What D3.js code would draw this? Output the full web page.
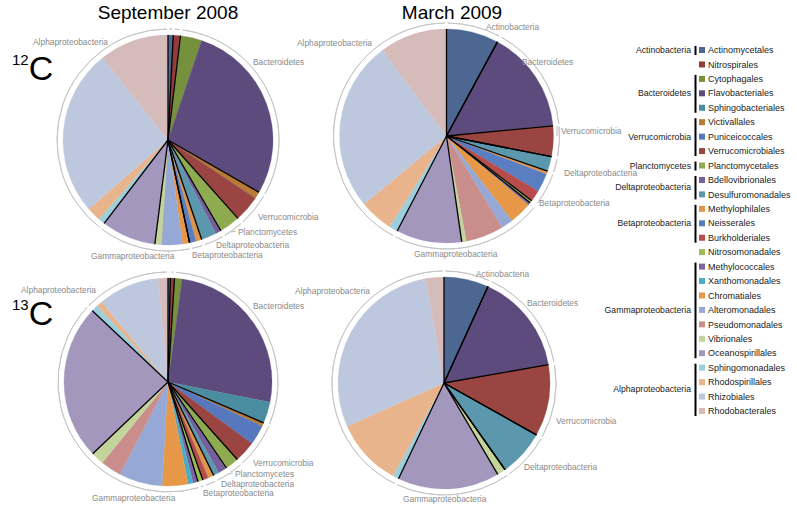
<!DOCTYPE html>
<html>
<head>
<meta charset="utf-8">
<script src="https://cdn.jsdelivr.net/npm/d3@7"></script>
<style>body{margin:0;background:#fff}</style>
</head>
<body>
<script>
// orders, in pie / legend order
var orders = ['Actinomycetales', 'Nitrospirales', 'Cytophagales', 'Flavobacteriales', 'Sphingobacteriales',
  'Victivallales', 'Puniceicoccales', 'Verrucomicrobiales', 'Planctomycetales', 'Bdellovibrionales',
  'Desulfuromonadales', 'Methylophilales', 'Neisserales', 'Burkholderiales', 'Nitrosomonadales',
  'Methylococcales', 'Xanthomonadales', 'Chromatiales', 'Alteromonadales', 'Pseudomonadales',
  'Vibrionales', 'Oceanospirillales', 'Sphingomonadales', 'Rhodospirillales', 'Rhizobiales', 'Rhodobacterales']
var groupOf = ['Actinobacteria', 'Nitrospirae', 'Bacteroidetes', 'Bacteroidetes', 'Bacteroidetes',
  'Verrucomicrobia', 'Verrucomicrobia', 'Verrucomicrobia', 'Planctomycetes', 'Deltaproteobacteria',
  'Deltaproteobacteria', 'Betaproteobacteria', 'Betaproteobacteria', 'Betaproteobacteria', 'Nitrosomonadales',
  'Gammaproteobacteria', 'Gammaproteobacteria', 'Gammaproteobacteria', 'Gammaproteobacteria', 'Gammaproteobacteria',
  'Gammaproteobacteria', 'Gammaproteobacteria', 'Alphaproteobacteria', 'Alphaproteobacteria', 'Alphaproteobacteria', 'Alphaproteobacteria']
var legendGroups = ['Actinobacteria', 'Bacteroidetes', 'Verrucomicrobia', 'Planctomycetes',
  'Deltaproteobacteria', 'Betaproteobacteria', 'Gammaproteobacteria', 'Alphaproteobacteria']
var colors = ['#4b6792', '#943c3a', '#76913d', '#5d4b7d', '#4a8ca0',
  '#b87a34', '#5878bd', '#9b4542', '#8eab4f', '#76609c',
  '#5b97ad', '#e0964a', '#5a7ec2', '#b84c4a', '#9bbb59',
  '#7e63a3', '#4bacc6', '#e69848', '#96a8d6', '#c98e8c',
  '#c2d49a', '#a497be', '#9bcfdc', '#e9b48c', '#bdc7de', '#d6bbbb']
// black separator drawn before these orders
var blackEdges = ['Actinomycetales', 'Nitrospirales', 'Cytophagales', 'Victivallales', 'Planctomycetales',
  'Bdellovibrionales', 'Methylophilales', 'Nitrosomonadales', 'Methylococcales', 'Oceanospirillales', 'Sphingomonadales']

// percent of clones per order
var sep12 = [0.8, 1.1, 3.3, 28.1, 0, 1.1, 0, 4.0, 3.2, 0.9, 2.3, 0.9, 1.0, 0, 0, 0, 0, 1.1, 3.2, 0, 1.0, 8.4, 1.0, 2.2, 25.7, 10.7]
var mar12 = [7.9, 0, 0, 15.6, 0, 0, 0, 4.6, 0, 0, 2.25, 0.5, 2.8, 1.7, 0.4, 0.4, 0, 3.4, 1.8, 5.7, 0.7, 9.9, 1.3, 5.1, 25.8, 10.2]
var sep13 = [0.36, 0.64, 1.17, 25.9, 3.3, 0.56, 3.1, 3.3, 2.1, 1.4, 0.86, 0.97, 0, 0.83, 0.78, 0.78, 0.78, 4.0, 6.75, 3.2, 2.0, 24.1, 1.06, 0.9, 9.5, 1.5]
var mar13 = [6.8, 0, 0, 15.4, 0, 0, 0, 10.9, 0, 0, 7.1, 0, 0, 0, 0, 0, 0, 0, 0, 0, 1.3, 15.5, 0.95, 10.3, 28.9, 2.75]

var width = 797
var height = 507

var pies = [
  {values: sep12, cx: 168, cy: 140, r: 105,
   labels: [['Alphaproteobacteria', 108, 45, 'end'], ['Bacteroidetes', 253, 65, 'start'], ['Verrucomicrobia', 258, 220, 'start'],
            ['Planctomycetes', 238, 235, 'start'], ['Deltaproteobacteria', 216, 248, 'start'], ['Betaproteobacteria', 192, 258, 'start'],
            ['Gammaproteobacteria', 91, 259, 'start']],
   leaders: [[231, 232, 236, 231]]},
  {values: mar12, cx: 446.5, cy: 136, r: 107,
   labels: [['Actinobacteria', 486, 30, 'start'], ['Alphaproteobacteria', 297, 46, 'start'], ['Bacteroidetes', 522, 65, 'start'],
            ['Verrucomicrobia', 561, 134, 'start'], ['Deltaproteobacteria', 564, 176, 'start'], ['Betaproteobacteria', 539, 206, 'start'],
            ['Gammaproteobacteria', 414, 257, 'start']],
   leaders: [[557, 126, 557, 136]]},
  {values: sep13, cx: 168, cy: 382, r: 104,
   labels: [['Alphaproteobacteria', 96, 293, 'end'], ['Bacteroidetes', 253, 309, 'start'], ['Verrucomicrobia', 253, 466, 'start'],
            ['Planctomycetes', 235, 477, 'start'], ['Deltaproteobacteria', 221, 487, 'start'], ['Betaproteobacteria', 203, 496, 'start'],
            ['Gammaproteobacteria', 92, 501, 'start']],
   leaders: [[228, 474, 233, 473]]},
  {values: mar13, cx: 444, cy: 383, r: 106,
   labels: [['Actinobacteria', 476, 277, 'start'], ['Alphaproteobacteria', 295, 294, 'start'], ['Bacteroidetes', 527, 306, 'start'],
            ['Verrucomicrobia', 556, 424, 'start'], ['Deltaproteobacteria', 524, 470, 'start'], ['Gammaproteobacteria', 403, 502, 'start']],
   leaders: []}
]

var svg = d3.select('body')
            .append('svg')
            .attr('width', width)
            .attr('height', height)
            .style('font-family', 'Arial, "Liberation Sans", sans-serif')

var color = d3.scaleOrdinal().domain(orders).range(colors)
var pie = d3.pie().sort(null).value(function(d){ return d.v })

pies.forEach(function(p){
  var data = orders.map(function(o, i){ return {order: o, group: groupOf[i], v: p.values[i]} })
  var arcs = pie(data)
  var g = svg.append('g').attr('transform', 'translate(' + p.cx + ',' + p.cy + ')')
  var arc = d3.arc().innerRadius(0).outerRadius(p.r)

  g.selectAll('path.slice')
    .data(arcs)
    .enter().append('path')
    .attr('class', 'slice')
    .attr('d', arc)
    .attr('fill', function(d){ return color(d.data.order) })
    .attr('stroke', function(d){ return color(d.data.order) })
    .attr('stroke-width', 0.3)

  // thin outer ring, one piece per group
  var spans = d3.rollups(arcs, function(v){
    return {s: d3.min(v, function(d){ return d.startAngle }), e: d3.max(v, function(d){ return d.endAngle })}
  }, function(d){ return d.data.group })
  var R = p.r + 6
  spans.forEach(function(sp){
    var s = sp[1].s, e = sp[1].e
    if (e - s < 0.03) return
    g.append('path')
      .attr('d', d3.arc().innerRadius(R).outerRadius(R).startAngle(s + 0.012).endAngle(e - 0.012)())
      .attr('fill', 'none')
      .attr('stroke', '#c4c4c4')
      .attr('stroke-width', 0.9)
  })

  // black separators
  arcs.filter(function(d){ return blackEdges.indexOf(d.data.order) >= 0 }).forEach(function(d){
    var a = d.startAngle
    g.append('line')
      .attr('x1', 0).attr('y1', 0)
      .attr('x2', p.r * Math.sin(a)).attr('y2', -p.r * Math.cos(a))
      .attr('stroke', '#000')
      .attr('stroke-width', 1.3)
  })

  p.labels.forEach(function(l){
    svg.append('text')
      .attr('x', l[1]).attr('y', l[2])
      .attr('text-anchor', l[3])
      .attr('font-size', '8.4px')
      .attr('fill', '#8a8a8a')
      .text(l[0])
  })
  p.leaders.forEach(function(l){
    svg.append('line')
      .attr('x1', l[0]).attr('y1', l[1]).attr('x2', l[2]).attr('y2', l[3])
      .attr('stroke', '#aaa').attr('stroke-width', 0.8)
  })
})

// titles
svg.append('text').attr('x', 168).attr('y', 19).attr('text-anchor', 'middle')
   .attr('font-size', '19px').attr('fill', '#000').text('September 2008')
svg.append('text').attr('x', 452).attr('y', 19).attr('text-anchor', 'middle')
   .attr('font-size', '19px').attr('fill', '#000').text('March 2009')

var iso = [['12', 80], ['13', 325]]
iso.forEach(function(d){
  var t = svg.append('text').attr('x', 12).attr('y', d[1]).attr('fill', '#000')
  t.append('tspan').attr('font-size', '15px').attr('dy', -15).text(d[0])
  t.append('tspan').attr('font-size', '34px').attr('dy', 15).text('C')
})

// legend
var ly = d3.scalePoint().domain(orders).range([50, 411])
var legend = svg.append('g')

legend.selectAll('rect')
  .data(orders)
  .enter().append('rect')
  .attr('x', 699)
  .attr('y', function(d){ return ly(d) - 3 })
  .attr('width', 6)
  .attr('height', 6)
  .attr('fill', function(d){ return color(d) })

legend.selectAll('text.item')
  .data(orders)
  .enter().append('text')
  .attr('class', 'item')
  .attr('x', 708)
  .attr('y', function(d){ return ly(d) })
  .attr('dy', '0.35em')
  .attr('font-size', '9px')
  .attr('fill', '#222')
  .text(function(d){ return d })

legendGroups.forEach(function(name){
  var items = orders.filter(function(o, i){ return groupOf[i] === name })
  var y0 = ly(items[0]) - 4, y1 = ly(items[items.length - 1]) + 5
  legend.append('line')
    .attr('x1', 695.5).attr('x2', 695.5)
    .attr('y1', y0).attr('y2', y1)
    .attr('stroke', '#000').attr('stroke-width', 2)
  legend.append('text')
    .attr('x', 691)
    .attr('y', (ly(items[0]) + ly(items[items.length - 1])) / 2)
    .attr('dy', '0.35em')
    .attr('text-anchor', 'end')
    .attr('font-size', '8.7px')
    .attr('fill', '#222')
    .text(name)
})
</script>
</body>
</html>
